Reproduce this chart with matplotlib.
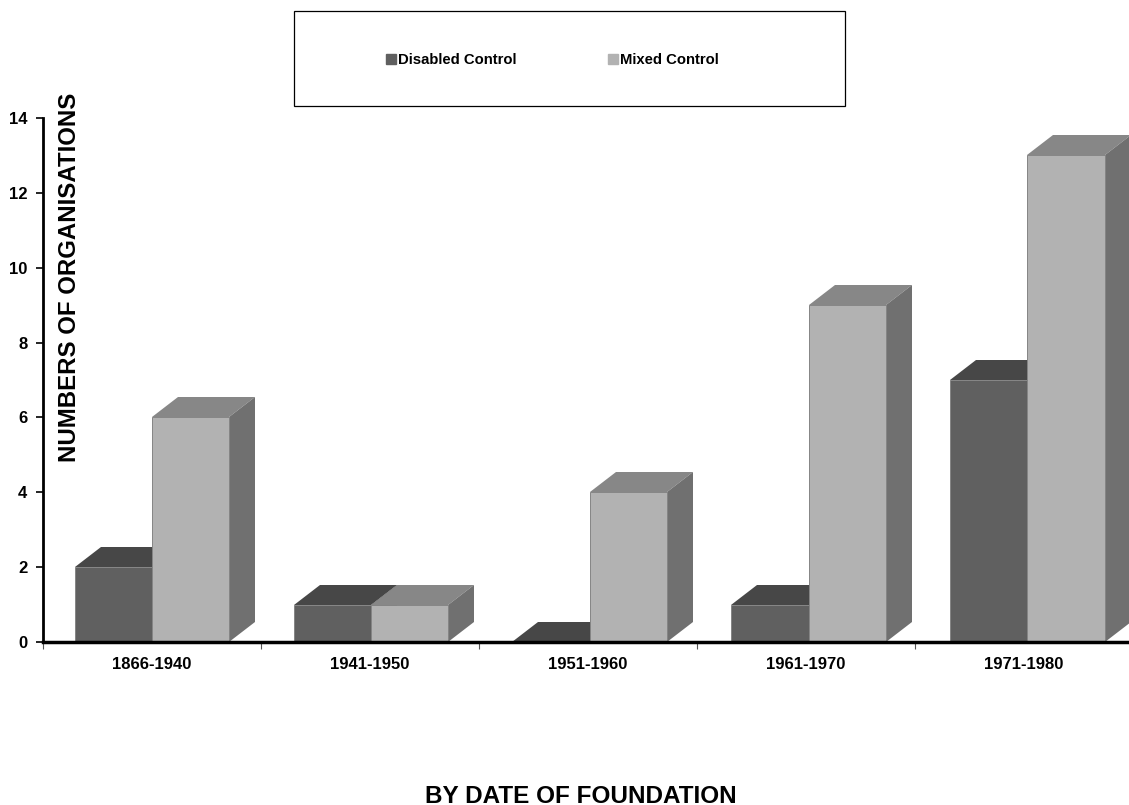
#!/usr/bin/env python3

import numpy as np
import matplotlib
matplotlib.use("Agg")
import matplotlib.pyplot as plt
from matplotlib.patches import Patch, Polygon, Rectangle

periods = ["1866-1940", "1941-1950", "1951-1960", "1961-1970", "1971-1980"]
disabled = [2, 1, 0, 1, 7]
mixed = [6, 1, 4, 9, 13]
yticks = [0, 2, 4, 6, 8, 10, 12, 14]

W, H = 1129, 805
LEFT, RIGHT, TOP, BOTTOM = 42.7, 1129, 118, 642
CAT_W = 218.8
TICK_W = 218.0
UNIT_Y = (BOTTOM - TOP) / 14.0

plt.rcParams["font.family"] = ["Liberation Sans", "DejaVu Sans"]
plt.rcParams["font.weight"] = "bold"


def bar3d(ax, x, values, width, front, top, side, label, z):
    # pseudo 3D: flat bar + parallelogram on top and on the right
    dx = 26 / CAT_W
    dy = 20 / UNIT_Y
    bars = ax.bar(x, values, width, align="edge", color=front, edgecolor="#858585",
                  linewidth=0.7, label=label, zorder=z + 1)
    for xi, v in zip(x, values):
        x1 = xi + width
        ax.add_patch(Polygon([(xi, v), (xi + dx, v + dy), (x1 + dx, v + dy), (x1, v)],
                             closed=True, fc=top, ec="none", zorder=z, clip_on=False, snap=True))
        ax.add_patch(Polygon([(x1, 0), (x1 + dx, dy), (x1 + dx, v + dy), (x1, v)],
                             closed=True, fc=side, ec="none", zorder=z, clip_on=False, snap=True))
    return bars


def main():
    fig = plt.figure(figsize=(W / 100, H / 100), dpi=100)
    ax = fig.add_axes([LEFT / W, 1 - BOTTOM / H, (RIGHT - LEFT) / W, (BOTTOM - TOP) / H])

    pos = np.arange(len(periods))
    width = 77.3 / CAT_W
    start = pos + 0.5 - width

    # disabled first so mixed covers its side face
    bar3d(ax, start, disabled, width, "#606060", "#474747", "#505050", "Disabled Control", 2)
    bar3d(ax, start + width, mixed, width, "#b2b2b2", "#878787", "#707070", "Mixed Control", 4)

    ax.set_xlim(0, (RIGHT - LEFT) / CAT_W)
    ax.set_ylim(0, 14)
    ax.set_yticks(yticks)
    # ticks run slightly tighter than the bars in the original
    ax.set_xticks(pos * TICK_W / CAT_W)
    ax.set_xticklabels([])
    ax.set_xticks((pos + 0.5) * TICK_W / CAT_W, minor=True)
    ax.set_xticklabels(periods, minor=True)
    ax.tick_params(axis="x", which="minor", length=0, labelsize=12, pad=11)
    ax.tick_params(axis="x", which="major", length=5, width=0.8, color="#555555")
    ax.tick_params(axis="y", length=5, width=1.2, labelsize=12, pad=6)

    for s in ["top", "right"]:
        ax.spines[s].set_visible(False)
    ax.spines["left"].set_linewidth(2)
    ax.spines["bottom"].set_linewidth(2.5)
    for s in ["left", "bottom"]:
        ax.spines[s].set_zorder(10)

    fig.text(76 / W, 1 - 277.5 / H, "NUMBERS OF ORGANISATIONS", rotation=90,
             rotation_mode="anchor", ha="center", va="baseline", fontsize=17.3)
    fig.text(581 / W, 1 - 803 / H, "BY DATE OF FOUNDATION",
             ha="center", va="baseline", fontsize=17.5)

    fig.add_artist(Rectangle((294 / W, 1 - 106 / H), 551 / W, 95 / H,
                             transform=fig.transFigure, fc="white", ec="black", lw=0.9))
    handles = [Patch(color="#606060"), Patch(color="#b2b2b2")]
    fig.legend(handles=handles, labels=["Disabled Control", "Mixed Control"],
               loc="center", bbox_to_anchor=(552.5 / W, 1 - 60 / H), ncol=2, frameon=False,
               fontsize=10.7, handlelength=0.67, handleheight=0.67, handletextpad=0.13,
               columnspacing=6.2)

    fig.savefig("out.png", dpi=100)


if __name__ == "__main__":
    main()
